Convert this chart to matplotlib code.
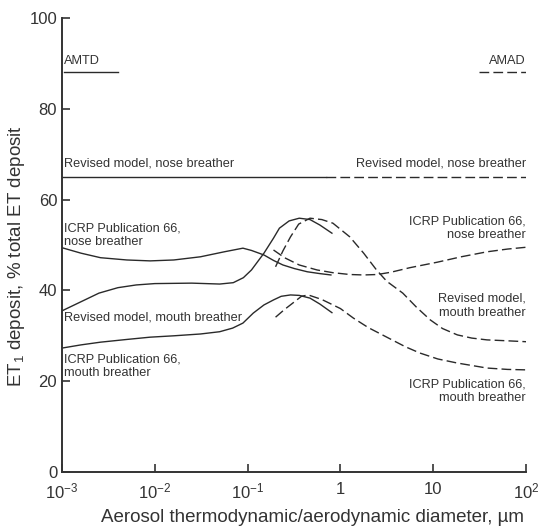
import numpy as np
import matplotlib
matplotlib.use('Agg')
import matplotlib.pyplot as plt

plt.rcParams['font.family'] = ['Liberation Sans', 'DejaVu Sans']
plt.rcParams['mathtext.fontset'] = 'custom'
plt.rcParams['mathtext.rm'] = 'Liberation Sans'
plt.rcParams['mathtext.it'] = 'Liberation Sans:italic'

# ---- data ----
# AMTD (solid) curves
rev_mouth_amtd_x = [0.001, 0.0016, 0.0025, 0.004, 0.0063, 0.01, 0.025, 0.05, 0.07, 0.09,
                    0.11, 0.15, 0.19, 0.22, 0.28, 0.36, 0.47, 0.6, 0.81]
rev_mouth_amtd_y = [35.5, 37.5, 39.4, 40.6, 41.2, 41.5, 41.6, 41.4, 41.7, 42.8,
                    44.5, 48.2, 51.5, 53.7, 55.3, 55.9, 55.6, 54.4, 52.6]

icrp_nose_amtd_x = [0.001, 0.0016, 0.0026, 0.005, 0.0089, 0.016, 0.031, 0.056, 0.089,
                    0.11, 0.15, 0.19, 0.24, 0.32, 0.44, 0.6, 0.79]
icrp_nose_amtd_y = [49.4, 48.2, 47.2, 46.7, 46.5, 46.7, 47.4, 48.5, 49.3,
                    48.8, 47.8, 46.6, 45.6, 44.8, 44.1, 43.7, 43.4]

icrp_mouth_amtd_x = [0.001, 0.0016, 0.0026, 0.005, 0.0089, 0.016, 0.031, 0.05, 0.069, 0.089,
                     0.115, 0.15, 0.19, 0.23, 0.29, 0.36, 0.47, 0.6, 0.81]
icrp_mouth_amtd_y = [27.3, 28.0, 28.6, 29.2, 29.7, 30.0, 30.4, 30.9, 31.7, 32.8,
                     35.0, 36.8, 37.9, 38.7, 39.0, 38.9, 38.3, 37.0, 35.1]

# AMAD (dashed) curves
rev_mouth_amad_x = [0.2, 0.24, 0.29, 0.355, 0.47, 0.63, 0.83, 1.26, 1.78, 2.45, 3.16, 4.7,
                    6.6, 9.3, 12.6, 18.2, 26, 38, 63, 100]
rev_mouth_amad_y = [45.2, 48.7, 51.8, 54.6, 55.9, 55.6, 54.8, 51.8, 48.2, 44.5, 42.0, 39.4,
                    36.3, 33.5, 31.6, 30.2, 29.5, 29.1, 28.9, 28.7]

icrp_nose_amad_x = [0.19, 0.25, 0.36, 0.56, 0.83, 1.26, 1.78, 2.5, 3.5, 5.6, 11, 20, 38, 63, 100]
icrp_nose_amad_y = [48.9, 47.2, 45.6, 44.5, 43.9, 43.5, 43.4, 43.5, 44.0, 45.0, 46.2, 47.4,
                    48.5, 49.1, 49.5]

icrp_mouth_amad_x = [0.2, 0.25, 0.32, 0.38, 0.45, 0.63, 1.0, 1.38, 2.0, 3.16, 5.0, 7.2, 11.2,
                     18.2, 38, 63, 100]
icrp_mouth_amad_y = [34.1, 35.8, 37.5, 38.7, 39.0, 38.0, 36.0, 33.9, 31.8, 29.7, 27.6, 26.2,
                     24.9, 24.0, 22.9, 22.6, 22.5]

# revised model, nose breather (constant)
rev_nose_amtd_x = [0.001, 0.7]
rev_nose_amtd_y = [65.0, 65.0]
rev_nose_amad_x = [0.7, 100]
rev_nose_amad_y = [65.0, 65.0]

xticks = [1e-3, 1e-2, 1e-1, 1, 10, 100]
xticklabels = ['$10^{-3}$', '$10^{-2}$', '$10^{-1}$', '1', '10', '$10^{2}$']
yticks = [0, 20, 40, 60, 80, 100]

line_color = '#2a2a2a'
text_color = '#333333'
dash = (7, 3)

fig = plt.figure(figsize=(5.46, 5.28), dpi=100)
ax = fig.add_axes([0.1136, 0.106, 0.8498, 0.86])

for x, y in [(rev_nose_amtd_x, rev_nose_amtd_y), (rev_mouth_amtd_x, rev_mouth_amtd_y),
             (icrp_nose_amtd_x, icrp_nose_amtd_y), (icrp_mouth_amtd_x, icrp_mouth_amtd_y)]:
    ax.plot(x, y, color=line_color, lw=1.0)

for x, y in [(rev_nose_amad_x, rev_nose_amad_y), (rev_mouth_amad_x, rev_mouth_amad_y),
             (icrp_nose_amad_x, icrp_nose_amad_y), (icrp_mouth_amad_x, icrp_mouth_amad_y)]:
    ax.plot(x, y, color=line_color, lw=1.0, dashes=dash)

# key lines
ax.plot([0.00104, 0.004], [88, 88], color=line_color, lw=1.0)
ax.text(0.00104, 90.5, 'AMTD', fontsize=9.2, color=text_color, ha='left', va='center')
ax.plot([31, 100], [88, 88], color=line_color, lw=1.0, dashes=dash)
ax.text(100, 90.5, 'AMAD', fontsize=9.2, color=text_color, ha='right', va='center')

# annotations
fs = 9.2
ls = 1.2
ax.text(0.00106, 68, 'Revised model, nose breather', fontsize=fs, color=text_color,
        ha='left', va='center')
ax.text(100, 68, 'Revised model, nose breather', fontsize=fs, color=text_color,
        ha='right', va='center')
ax.text(0.00106, 52.2, 'ICRP Publication 66,\nnose breather', fontsize=fs, color=text_color,
        ha='left', va='center', linespacing=ls)
ax.text(100, 53.7, 'ICRP Publication 66,\nnose breather', fontsize=fs, color=text_color,
        ha='right', va='center', linespacing=ls)
ax.text(0.00106, 34.1, 'Revised model, mouth breather', fontsize=fs, color=text_color,
        ha='left', va='center')
ax.text(100, 36.6, 'Revised model,\nmouth breather', fontsize=fs, color=text_color,
        ha='right', va='center', linespacing=ls)
ax.text(0.00106, 23.3, 'ICRP Publication 66,\nmouth breather', fontsize=fs, color=text_color,
        ha='left', va='center', linespacing=ls)
ax.text(100, 17.8, 'ICRP Publication 66,\nmouth breather', fontsize=fs, color=text_color,
        ha='right', va='center', linespacing=ls)

ax.set_xscale('log')
ax.set_xlim(1e-3, 100)
ax.set_ylim(0, 100)
ax.set_xticks(xticks)
ax.set_xticklabels(xticklabels)
ax.minorticks_off()
ax.set_yticks(yticks)

for s in ['top', 'right']:
    ax.spines[s].set_visible(False)
for s in ['left', 'bottom']:
    ax.spines[s].set_linewidth(1.4)
    ax.spines[s].set_color('#333333')
ax.tick_params(direction='in', length=6, width=1.2, color='#333333',
               labelsize=12, labelcolor=text_color)
ax.tick_params(axis='x', pad=7)
ax.tick_params(axis='y', pad=3.5)

ax.set_xlabel('Aerosol thermodynamic/aerodynamic diameter, µm', fontsize=13.5,
              color=text_color)
ax.set_ylabel('ET$_1$ deposit, % total ET deposit', fontsize=13.5, color=text_color)
ax.xaxis.set_label_coords(0.539, -0.082)
ax.yaxis.set_label_coords(-0.075, 0.476)

fig.savefig('out.png', dpi=100)
